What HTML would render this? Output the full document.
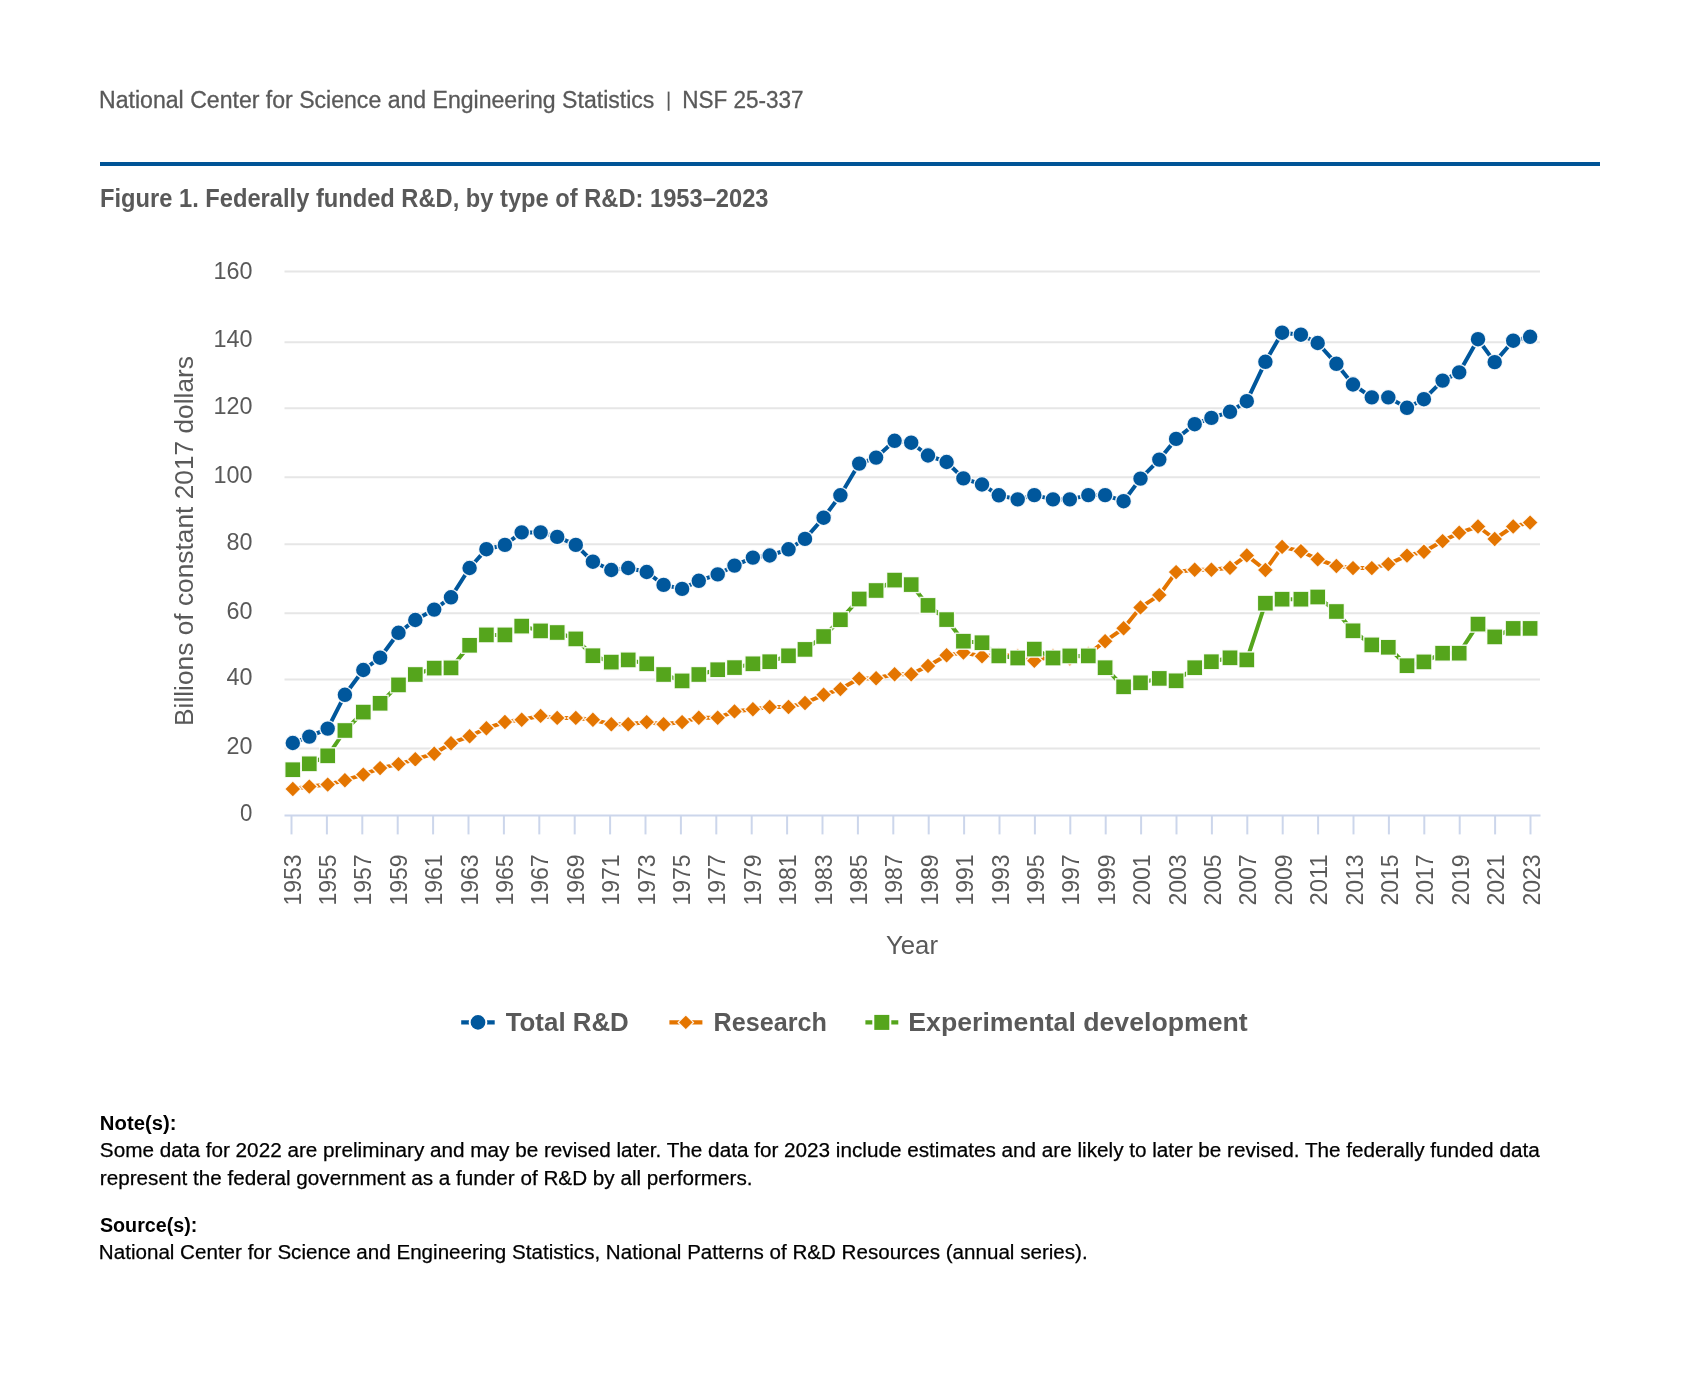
<!DOCTYPE html>
<html><head><meta charset="utf-8">
<style>
html,body{margin:0;padding:0;background:#fff;width:1699px;height:1374px;overflow:hidden;}
svg{position:absolute;left:0;top:0;font-family:"Liberation Sans",sans-serif;will-change:transform;}
</style></head><body>
<svg width="1699" height="1374" viewBox="0 0 1699 1374">
<rect x="100" y="162" width="1500" height="4" fill="#005496"/>
<rect x="667.7" y="91.6" width="1.8" height="19.2" fill="#595959"/>
<text id="hdr1" x="99.1" y="107.8" font-size="23" font-weight="normal" fill="#595959" textLength="555.31" lengthAdjust="spacingAndGlyphs" stroke="#595959" stroke-width="0.3">National Center for Science and Engineering Statistics</text>
<text id="hdr3" x="682.13" y="107.8" font-size="23" font-weight="normal" fill="#595959" textLength="121.45" lengthAdjust="spacingAndGlyphs" stroke="#595959" stroke-width="0.3">NSF 25-337</text>
<text id="title" x="100.08" y="207" font-size="25" font-weight="bold" fill="#595959" textLength="668.41" lengthAdjust="spacingAndGlyphs">Figure 1. Federally funded R&amp;D, by type of R&amp;D: 1953–2023</text>
<text id="year" x="885.98" y="954" font-size="25" font-weight="normal" fill="#595959" textLength="52.03" lengthAdjust="spacingAndGlyphs">Year</text>
<text id="lg1" x="505.7" y="1031" font-size="25" font-weight="bold" fill="#595959" textLength="123.13" lengthAdjust="spacingAndGlyphs">Total R&amp;D</text>
<text id="lg2" x="713.49" y="1031" font-size="25" font-weight="bold" fill="#595959" textLength="113.4" lengthAdjust="spacingAndGlyphs">Research</text>
<text id="lg3" x="908.3" y="1031" font-size="25" font-weight="bold" fill="#595959" textLength="339.41" lengthAdjust="spacingAndGlyphs">Experimental development</text>
<text id="note" x="99.87" y="1130.3" font-size="20" font-weight="bold" fill="#000" textLength="76.61" lengthAdjust="spacingAndGlyphs">Note(s):</text>
<text id="n2" x="99.85" y="1157" font-size="20" font-weight="normal" fill="#000" textLength="1439.83" lengthAdjust="spacingAndGlyphs" stroke="#000" stroke-width="0.25">Some data for 2022 are preliminary and may be revised later. The data for 2023 include estimates and are likely to later be revised. The federally funded data</text>
<text id="n3" x="99.85" y="1184.5" font-size="20" font-weight="normal" fill="#000" textLength="652.66" lengthAdjust="spacingAndGlyphs" stroke="#000" stroke-width="0.25">represent the federal government as a funder of R&amp;D by all performers.</text>
<text id="src" x="99.91" y="1232.4" font-size="20" font-weight="bold" fill="#000" textLength="97.47" lengthAdjust="spacingAndGlyphs">Source(s):</text>
<text id="s2" x="98.86" y="1259.4" font-size="20" font-weight="normal" fill="#000" textLength="988.79" lengthAdjust="spacingAndGlyphs" stroke="#000" stroke-width="0.25">National Center for Science and Engineering Statistics, National Patterns of R&amp;D Resources (annual series).</text>
<line x1="284.5" x2="1540" y1="271.4" y2="271.4" stroke="#e6e6e6" stroke-width="2"/>
<line x1="284.5" x2="1540" y1="342.3" y2="342.3" stroke="#e6e6e6" stroke-width="2"/>
<line x1="284.5" x2="1540" y1="408.3" y2="408.3" stroke="#e6e6e6" stroke-width="2"/>
<line x1="284.5" x2="1540" y1="477.3" y2="477.3" stroke="#e6e6e6" stroke-width="2"/>
<line x1="284.5" x2="1540" y1="544.3" y2="544.3" stroke="#e6e6e6" stroke-width="2"/>
<line x1="284.5" x2="1540" y1="613.3" y2="613.3" stroke="#e6e6e6" stroke-width="2"/>
<line x1="284.5" x2="1540" y1="679.4" y2="679.4" stroke="#e6e6e6" stroke-width="2"/>
<line x1="284.5" x2="1540" y1="748.4" y2="748.4" stroke="#e6e6e6" stroke-width="2"/>
<text x="252.5" y="278.6" text-anchor="end" font-size="23" fill="#595959" textLength="39.0" lengthAdjust="spacingAndGlyphs">160</text>
<text x="252.5" y="347.3" text-anchor="end" font-size="23" fill="#595959" textLength="39.0" lengthAdjust="spacingAndGlyphs">140</text>
<text x="252.5" y="414.1" text-anchor="end" font-size="23" fill="#595959" textLength="39.0" lengthAdjust="spacingAndGlyphs">120</text>
<text x="252.5" y="482.7" text-anchor="end" font-size="23" fill="#595959" textLength="39.0" lengthAdjust="spacingAndGlyphs">100</text>
<text x="252.5" y="549.6" text-anchor="end" font-size="23" fill="#595959" textLength="26.0" lengthAdjust="spacingAndGlyphs">80</text>
<text x="252.5" y="618.5" text-anchor="end" font-size="23" fill="#595959" textLength="26.0" lengthAdjust="spacingAndGlyphs">60</text>
<text x="252.5" y="685.0" text-anchor="end" font-size="23" fill="#595959" textLength="26.0" lengthAdjust="spacingAndGlyphs">40</text>
<text x="252.5" y="753.6" text-anchor="end" font-size="23" fill="#595959" textLength="26.0" lengthAdjust="spacingAndGlyphs">20</text>
<text x="252.5" y="820.5" text-anchor="end" font-size="23" fill="#595959" textLength="12.4" lengthAdjust="spacingAndGlyphs">0</text>
<line x1="284.5" x2="1540.5" y1="815.4" y2="815.4" stroke="#ccd6eb" stroke-width="2"/>
<line x1="291.5" x2="291.5" y1="815.4" y2="834.4" stroke="#ccd6eb" stroke-width="2"/>
<text transform="translate(300.5,854.3) rotate(-90)" text-anchor="end" font-size="23" fill="#595959" textLength="51.3" lengthAdjust="spacingAndGlyphs">1953</text>
<line x1="326.9" x2="326.9" y1="815.4" y2="834.4" stroke="#ccd6eb" stroke-width="2"/>
<text transform="translate(335.9,854.3) rotate(-90)" text-anchor="end" font-size="23" fill="#595959" textLength="51.3" lengthAdjust="spacingAndGlyphs">1955</text>
<line x1="362.3" x2="362.3" y1="815.4" y2="834.4" stroke="#ccd6eb" stroke-width="2"/>
<text transform="translate(371.3,854.3) rotate(-90)" text-anchor="end" font-size="23" fill="#595959" textLength="51.3" lengthAdjust="spacingAndGlyphs">1957</text>
<line x1="397.7" x2="397.7" y1="815.4" y2="834.4" stroke="#ccd6eb" stroke-width="2"/>
<text transform="translate(406.7,854.3) rotate(-90)" text-anchor="end" font-size="23" fill="#595959" textLength="51.3" lengthAdjust="spacingAndGlyphs">1959</text>
<line x1="433.1" x2="433.1" y1="815.4" y2="834.4" stroke="#ccd6eb" stroke-width="2"/>
<text transform="translate(442.1,854.3) rotate(-90)" text-anchor="end" font-size="23" fill="#595959" textLength="51.3" lengthAdjust="spacingAndGlyphs">1961</text>
<line x1="468.5" x2="468.5" y1="815.4" y2="834.4" stroke="#ccd6eb" stroke-width="2"/>
<text transform="translate(477.5,854.3) rotate(-90)" text-anchor="end" font-size="23" fill="#595959" textLength="51.3" lengthAdjust="spacingAndGlyphs">1963</text>
<line x1="503.9" x2="503.9" y1="815.4" y2="834.4" stroke="#ccd6eb" stroke-width="2"/>
<text transform="translate(512.9,854.3) rotate(-90)" text-anchor="end" font-size="23" fill="#595959" textLength="51.3" lengthAdjust="spacingAndGlyphs">1965</text>
<line x1="539.3" x2="539.3" y1="815.4" y2="834.4" stroke="#ccd6eb" stroke-width="2"/>
<text transform="translate(548.3,854.3) rotate(-90)" text-anchor="end" font-size="23" fill="#595959" textLength="51.3" lengthAdjust="spacingAndGlyphs">1967</text>
<line x1="574.7" x2="574.7" y1="815.4" y2="834.4" stroke="#ccd6eb" stroke-width="2"/>
<text transform="translate(583.7,854.3) rotate(-90)" text-anchor="end" font-size="23" fill="#595959" textLength="51.3" lengthAdjust="spacingAndGlyphs">1969</text>
<line x1="610.0999999999999" x2="610.0999999999999" y1="815.4" y2="834.4" stroke="#ccd6eb" stroke-width="2"/>
<text transform="translate(619.1,854.3) rotate(-90)" text-anchor="end" font-size="23" fill="#595959" textLength="51.3" lengthAdjust="spacingAndGlyphs">1971</text>
<line x1="645.5" x2="645.5" y1="815.4" y2="834.4" stroke="#ccd6eb" stroke-width="2"/>
<text transform="translate(654.5,854.3) rotate(-90)" text-anchor="end" font-size="23" fill="#595959" textLength="51.3" lengthAdjust="spacingAndGlyphs">1973</text>
<line x1="680.9" x2="680.9" y1="815.4" y2="834.4" stroke="#ccd6eb" stroke-width="2"/>
<text transform="translate(689.9,854.3) rotate(-90)" text-anchor="end" font-size="23" fill="#595959" textLength="51.3" lengthAdjust="spacingAndGlyphs">1975</text>
<line x1="716.3" x2="716.3" y1="815.4" y2="834.4" stroke="#ccd6eb" stroke-width="2"/>
<text transform="translate(725.3,854.3) rotate(-90)" text-anchor="end" font-size="23" fill="#595959" textLength="51.3" lengthAdjust="spacingAndGlyphs">1977</text>
<line x1="751.7" x2="751.7" y1="815.4" y2="834.4" stroke="#ccd6eb" stroke-width="2"/>
<text transform="translate(760.7,854.3) rotate(-90)" text-anchor="end" font-size="23" fill="#595959" textLength="51.3" lengthAdjust="spacingAndGlyphs">1979</text>
<line x1="787.0999999999999" x2="787.0999999999999" y1="815.4" y2="834.4" stroke="#ccd6eb" stroke-width="2"/>
<text transform="translate(796.1,854.3) rotate(-90)" text-anchor="end" font-size="23" fill="#595959" textLength="51.3" lengthAdjust="spacingAndGlyphs">1981</text>
<line x1="822.5" x2="822.5" y1="815.4" y2="834.4" stroke="#ccd6eb" stroke-width="2"/>
<text transform="translate(831.5,854.3) rotate(-90)" text-anchor="end" font-size="23" fill="#595959" textLength="51.3" lengthAdjust="spacingAndGlyphs">1983</text>
<line x1="857.9" x2="857.9" y1="815.4" y2="834.4" stroke="#ccd6eb" stroke-width="2"/>
<text transform="translate(866.9,854.3) rotate(-90)" text-anchor="end" font-size="23" fill="#595959" textLength="51.3" lengthAdjust="spacingAndGlyphs">1985</text>
<line x1="893.3" x2="893.3" y1="815.4" y2="834.4" stroke="#ccd6eb" stroke-width="2"/>
<text transform="translate(902.3,854.3) rotate(-90)" text-anchor="end" font-size="23" fill="#595959" textLength="51.3" lengthAdjust="spacingAndGlyphs">1987</text>
<line x1="928.6999999999999" x2="928.6999999999999" y1="815.4" y2="834.4" stroke="#ccd6eb" stroke-width="2"/>
<text transform="translate(937.7,854.3) rotate(-90)" text-anchor="end" font-size="23" fill="#595959" textLength="51.3" lengthAdjust="spacingAndGlyphs">1989</text>
<line x1="964.1" x2="964.1" y1="815.4" y2="834.4" stroke="#ccd6eb" stroke-width="2"/>
<text transform="translate(973.1,854.3) rotate(-90)" text-anchor="end" font-size="23" fill="#595959" textLength="51.3" lengthAdjust="spacingAndGlyphs">1991</text>
<line x1="999.5" x2="999.5" y1="815.4" y2="834.4" stroke="#ccd6eb" stroke-width="2"/>
<text transform="translate(1008.5,854.3) rotate(-90)" text-anchor="end" font-size="23" fill="#595959" textLength="51.3" lengthAdjust="spacingAndGlyphs">1993</text>
<line x1="1034.9" x2="1034.9" y1="815.4" y2="834.4" stroke="#ccd6eb" stroke-width="2"/>
<text transform="translate(1043.9,854.3) rotate(-90)" text-anchor="end" font-size="23" fill="#595959" textLength="51.3" lengthAdjust="spacingAndGlyphs">1995</text>
<line x1="1070.3" x2="1070.3" y1="815.4" y2="834.4" stroke="#ccd6eb" stroke-width="2"/>
<text transform="translate(1079.3,854.3) rotate(-90)" text-anchor="end" font-size="23" fill="#595959" textLength="51.3" lengthAdjust="spacingAndGlyphs">1997</text>
<line x1="1105.6999999999998" x2="1105.6999999999998" y1="815.4" y2="834.4" stroke="#ccd6eb" stroke-width="2"/>
<text transform="translate(1114.7,854.3) rotate(-90)" text-anchor="end" font-size="23" fill="#595959" textLength="51.3" lengthAdjust="spacingAndGlyphs">1999</text>
<line x1="1141.1" x2="1141.1" y1="815.4" y2="834.4" stroke="#ccd6eb" stroke-width="2"/>
<text transform="translate(1150.1,854.3) rotate(-90)" text-anchor="end" font-size="23" fill="#595959" textLength="51.3" lengthAdjust="spacingAndGlyphs">2001</text>
<line x1="1176.5" x2="1176.5" y1="815.4" y2="834.4" stroke="#ccd6eb" stroke-width="2"/>
<text transform="translate(1185.5,854.3) rotate(-90)" text-anchor="end" font-size="23" fill="#595959" textLength="51.3" lengthAdjust="spacingAndGlyphs">2003</text>
<line x1="1211.9" x2="1211.9" y1="815.4" y2="834.4" stroke="#ccd6eb" stroke-width="2"/>
<text transform="translate(1220.9,854.3) rotate(-90)" text-anchor="end" font-size="23" fill="#595959" textLength="51.3" lengthAdjust="spacingAndGlyphs">2005</text>
<line x1="1247.3" x2="1247.3" y1="815.4" y2="834.4" stroke="#ccd6eb" stroke-width="2"/>
<text transform="translate(1256.3,854.3) rotate(-90)" text-anchor="end" font-size="23" fill="#595959" textLength="51.3" lengthAdjust="spacingAndGlyphs">2007</text>
<line x1="1282.6999999999998" x2="1282.6999999999998" y1="815.4" y2="834.4" stroke="#ccd6eb" stroke-width="2"/>
<text transform="translate(1291.7,854.3) rotate(-90)" text-anchor="end" font-size="23" fill="#595959" textLength="51.3" lengthAdjust="spacingAndGlyphs">2009</text>
<line x1="1318.1" x2="1318.1" y1="815.4" y2="834.4" stroke="#ccd6eb" stroke-width="2"/>
<text transform="translate(1327.1,854.3) rotate(-90)" text-anchor="end" font-size="23" fill="#595959" textLength="51.3" lengthAdjust="spacingAndGlyphs">2011</text>
<line x1="1353.5" x2="1353.5" y1="815.4" y2="834.4" stroke="#ccd6eb" stroke-width="2"/>
<text transform="translate(1362.5,854.3) rotate(-90)" text-anchor="end" font-size="23" fill="#595959" textLength="51.3" lengthAdjust="spacingAndGlyphs">2013</text>
<line x1="1388.8999999999999" x2="1388.8999999999999" y1="815.4" y2="834.4" stroke="#ccd6eb" stroke-width="2"/>
<text transform="translate(1397.9,854.3) rotate(-90)" text-anchor="end" font-size="23" fill="#595959" textLength="51.3" lengthAdjust="spacingAndGlyphs">2015</text>
<line x1="1424.3" x2="1424.3" y1="815.4" y2="834.4" stroke="#ccd6eb" stroke-width="2"/>
<text transform="translate(1433.3,854.3) rotate(-90)" text-anchor="end" font-size="23" fill="#595959" textLength="51.3" lengthAdjust="spacingAndGlyphs">2017</text>
<line x1="1459.7" x2="1459.7" y1="815.4" y2="834.4" stroke="#ccd6eb" stroke-width="2"/>
<text transform="translate(1468.7,854.3) rotate(-90)" text-anchor="end" font-size="23" fill="#595959" textLength="51.3" lengthAdjust="spacingAndGlyphs">2019</text>
<line x1="1495.1" x2="1495.1" y1="815.4" y2="834.4" stroke="#ccd6eb" stroke-width="2"/>
<text transform="translate(1504.1,854.3) rotate(-90)" text-anchor="end" font-size="23" fill="#595959" textLength="51.3" lengthAdjust="spacingAndGlyphs">2021</text>
<line x1="1530.5" x2="1530.5" y1="815.4" y2="834.4" stroke="#ccd6eb" stroke-width="2"/>
<text transform="translate(1539.5,854.3) rotate(-90)" text-anchor="end" font-size="23" fill="#595959" textLength="51.3" lengthAdjust="spacingAndGlyphs">2023</text>
<path d="M292.8 789.0 L309.3 786.6 L327.7 784.6 L344.9 780.2 L363.3 774.6 L380.1 768.1 L398.5 764.1 L415.3 759.3 L434.2 753.7 L451.0 743.2 L469.6 736.3 L486.4 728.3 L504.9 722.0 L521.7 719.8 L540.6 715.9 L557.2 717.9 L575.8 717.9 L592.9 719.8 L611.3 724.2 L628.2 724.2 L646.7 722.1 L663.6 724.2 L682.1 722.1 L698.8 717.8 L717.7 717.8 L734.5 711.4 L752.9 709.3 L769.7 707.0 L788.5 707.0 L805.0 703.0 L823.6 694.8 L840.4 689.1 L859.2 678.6 L876.1 678.3 L894.6 674.2 L911.2 674.2 L928.0 665.9 L946.6 655.3 L963.4 652.6 L982.0 656.3 L998.8 654.9 L1017.7 656.0 L1034.3 660.8 L1053.0 656.0 L1069.8 658.5 L1088.3 654.0 L1105.1 641.2 L1123.6 628.3 L1140.5 607.4 L1159.3 595.1 L1176.1 572.1 L1194.7 569.8 L1211.4 569.8 L1230.0 567.8 L1246.8 555.4 L1265.4 570.0 L1282.1 546.9 L1300.9 551.2 L1317.7 559.3 L1336.4 566.0 L1353.0 568.1 L1371.8 568.1 L1388.3 564.1 L1407.0 555.6 L1423.9 551.7 L1442.6 541.1 L1459.2 532.8 L1478.0 526.5 L1494.7 539.0 L1513.2 526.5 L1530.1 522.6" fill="none" stroke="#e47500" stroke-width="4" stroke-linejoin="round"/>
<g fill="#e47500" stroke="rgba(255,255,255,0.9)" stroke-width="1.4"><path d="M292.8 780.8L301.0 789.0L292.8 797.2L284.6 789.0Z"/><path d="M309.3 778.4L317.5 786.6L309.3 794.8L301.1 786.6Z"/><path d="M327.7 776.4L335.9 784.6L327.7 792.8L319.5 784.6Z"/><path d="M344.9 772.0L353.1 780.2L344.9 788.4L336.7 780.2Z"/><path d="M363.3 766.4L371.5 774.6L363.3 782.8L355.1 774.6Z"/><path d="M380.1 759.9L388.3 768.1L380.1 776.3L371.9 768.1Z"/><path d="M398.5 755.9L406.7 764.1L398.5 772.3L390.3 764.1Z"/><path d="M415.3 751.1L423.5 759.3L415.3 767.5L407.1 759.3Z"/><path d="M434.2 745.5L442.4 753.7L434.2 761.9L426.0 753.7Z"/><path d="M451.0 735.0L459.2 743.2L451.0 751.4L442.8 743.2Z"/><path d="M469.6 728.1L477.8 736.3L469.6 744.5L461.4 736.3Z"/><path d="M486.4 720.1L494.6 728.3L486.4 736.5L478.2 728.3Z"/><path d="M504.9 713.8L513.1 722.0L504.9 730.2L496.7 722.0Z"/><path d="M521.7 711.6L529.9 719.8L521.7 728.0L513.5 719.8Z"/><path d="M540.6 707.7L548.8 715.9L540.6 724.1L532.4 715.9Z"/><path d="M557.2 709.7L565.4 717.9L557.2 726.1L549.0 717.9Z"/><path d="M575.8 709.7L584.0 717.9L575.8 726.1L567.6 717.9Z"/><path d="M592.9 711.6L601.1 719.8L592.9 728.0L584.7 719.8Z"/><path d="M611.3 716.0L619.5 724.2L611.3 732.4L603.1 724.2Z"/><path d="M628.2 716.0L636.4 724.2L628.2 732.4L620.0 724.2Z"/><path d="M646.7 713.9L654.9 722.1L646.7 730.3L638.5 722.1Z"/><path d="M663.6 716.0L671.8 724.2L663.6 732.4L655.4 724.2Z"/><path d="M682.1 713.9L690.3 722.1L682.1 730.3L673.9 722.1Z"/><path d="M698.8 709.6L707.0 717.8L698.8 726.0L690.6 717.8Z"/><path d="M717.7 709.6L725.9 717.8L717.7 726.0L709.5 717.8Z"/><path d="M734.5 703.2L742.7 711.4L734.5 719.6L726.3 711.4Z"/><path d="M752.9 701.1L761.1 709.3L752.9 717.5L744.7 709.3Z"/><path d="M769.7 698.8L777.9 707.0L769.7 715.2L761.5 707.0Z"/><path d="M788.5 698.8L796.7 707.0L788.5 715.2L780.3 707.0Z"/><path d="M805.0 694.8L813.2 703.0L805.0 711.2L796.8 703.0Z"/><path d="M823.6 686.6L831.8 694.8L823.6 703.0L815.4 694.8Z"/><path d="M840.4 680.9L848.6 689.1L840.4 697.3L832.2 689.1Z"/><path d="M859.2 670.4L867.4 678.6L859.2 686.8L851.0 678.6Z"/><path d="M876.1 670.1L884.3 678.3L876.1 686.5L867.9 678.3Z"/><path d="M894.6 666.0L902.8 674.2L894.6 682.4L886.4 674.2Z"/><path d="M911.2 666.0L919.4 674.2L911.2 682.4L903.0 674.2Z"/><path d="M928.0 657.7L936.2 665.9L928.0 674.1L919.8 665.9Z"/><path d="M946.6 647.1L954.8 655.3L946.6 663.5L938.4 655.3Z"/><path d="M963.4 644.4L971.6 652.6L963.4 660.8L955.2 652.6Z"/><path d="M982.0 648.1L990.2 656.3L982.0 664.5L973.8 656.3Z"/><path d="M998.8 646.7L1007.0 654.9L998.8 663.1L990.6 654.9Z"/><path d="M1017.7 647.8L1025.9 656.0L1017.7 664.2L1009.5 656.0Z"/><path d="M1034.3 652.6L1042.5 660.8L1034.3 669.0L1026.1 660.8Z"/><path d="M1053.0 647.8L1061.2 656.0L1053.0 664.2L1044.8 656.0Z"/><path d="M1069.8 650.3L1078.0 658.5L1069.8 666.7L1061.6 658.5Z"/><path d="M1088.3 645.8L1096.5 654.0L1088.3 662.2L1080.1 654.0Z"/><path d="M1105.1 633.0L1113.3 641.2L1105.1 649.4L1096.9 641.2Z"/><path d="M1123.6 620.1L1131.8 628.3L1123.6 636.5L1115.4 628.3Z"/><path d="M1140.5 599.2L1148.7 607.4L1140.5 615.6L1132.3 607.4Z"/><path d="M1159.3 586.9L1167.5 595.1L1159.3 603.3L1151.1 595.1Z"/><path d="M1176.1 563.9L1184.3 572.1L1176.1 580.3L1167.9 572.1Z"/><path d="M1194.7 561.6L1202.9 569.8L1194.7 578.0L1186.5 569.8Z"/><path d="M1211.4 561.6L1219.6 569.8L1211.4 578.0L1203.2 569.8Z"/><path d="M1230.0 559.6L1238.2 567.8L1230.0 576.0L1221.8 567.8Z"/><path d="M1246.8 547.2L1255.0 555.4L1246.8 563.6L1238.6 555.4Z"/><path d="M1265.4 561.8L1273.6 570.0L1265.4 578.2L1257.2 570.0Z"/><path d="M1282.1 538.7L1290.3 546.9L1282.1 555.1L1273.9 546.9Z"/><path d="M1300.9 543.0L1309.1 551.2L1300.9 559.4L1292.7 551.2Z"/><path d="M1317.7 551.1L1325.9 559.3L1317.7 567.5L1309.5 559.3Z"/><path d="M1336.4 557.8L1344.6 566.0L1336.4 574.2L1328.2 566.0Z"/><path d="M1353.0 559.9L1361.2 568.1L1353.0 576.3L1344.8 568.1Z"/><path d="M1371.8 559.9L1380.0 568.1L1371.8 576.3L1363.6 568.1Z"/><path d="M1388.3 555.9L1396.5 564.1L1388.3 572.3L1380.1 564.1Z"/><path d="M1407.0 547.4L1415.2 555.6L1407.0 563.8L1398.8 555.6Z"/><path d="M1423.9 543.5L1432.1 551.7L1423.9 559.9L1415.7 551.7Z"/><path d="M1442.6 532.9L1450.8 541.1L1442.6 549.3L1434.4 541.1Z"/><path d="M1459.2 524.6L1467.4 532.8L1459.2 541.0L1451.0 532.8Z"/><path d="M1478.0 518.3L1486.2 526.5L1478.0 534.7L1469.8 526.5Z"/><path d="M1494.7 530.8L1502.9 539.0L1494.7 547.2L1486.5 539.0Z"/><path d="M1513.2 518.3L1521.4 526.5L1513.2 534.7L1505.0 526.5Z"/><path d="M1530.1 514.4L1538.3 522.6L1530.1 530.8L1521.9 522.6Z"/></g>
<path d="M292.8 769.7 L309.3 763.8 L327.7 755.8 L344.9 730.5 L363.3 712.1 L380.1 703.3 L398.5 684.9 L415.3 674.5 L434.2 668.1 L451.0 667.9 L469.6 645.3 L486.4 634.9 L504.9 634.9 L521.7 626.1 L540.6 630.9 L557.2 632.5 L575.8 638.9 L592.9 655.7 L611.3 662.1 L628.2 659.9 L646.7 663.8 L663.6 674.5 L682.1 680.9 L698.8 674.5 L717.7 669.7 L734.5 667.6 L752.9 663.8 L769.7 661.7 L788.5 655.8 L805.0 649.4 L823.6 636.5 L840.4 619.7 L859.2 599.0 L876.1 590.5 L894.6 580.1 L911.2 584.6 L928.0 605.4 L946.6 619.6 L963.4 641.2 L982.0 642.7 L998.8 655.9 L1017.7 658.0 L1034.3 649.1 L1053.0 658.0 L1069.8 655.9 L1088.3 655.9 L1105.1 667.7 L1123.6 686.8 L1140.5 682.8 L1159.3 678.4 L1176.1 680.8 L1194.7 667.7 L1211.4 661.7 L1230.0 657.8 L1246.8 659.9 L1265.4 603.2 L1282.1 599.2 L1300.9 599.2 L1317.7 597.0 L1336.4 611.5 L1353.0 630.8 L1371.8 644.9 L1388.3 647.3 L1407.0 665.7 L1423.9 661.9 L1442.6 653.2 L1459.2 653.2 L1478.0 624.1 L1494.7 636.9 L1513.2 628.4 L1530.1 628.4" fill="none" stroke="#55a51c" stroke-width="4" stroke-linejoin="round"/>
<g fill="#55a51c" stroke="rgba(255,255,255,0.9)" stroke-width="1.4"><rect x="284.8" y="761.7" width="16.0" height="16.0"/><rect x="301.3" y="755.8" width="16.0" height="16.0"/><rect x="319.7" y="747.8" width="16.0" height="16.0"/><rect x="336.9" y="722.5" width="16.0" height="16.0"/><rect x="355.3" y="704.1" width="16.0" height="16.0"/><rect x="372.1" y="695.3" width="16.0" height="16.0"/><rect x="390.5" y="676.9" width="16.0" height="16.0"/><rect x="407.3" y="666.5" width="16.0" height="16.0"/><rect x="426.2" y="660.1" width="16.0" height="16.0"/><rect x="443.0" y="659.9" width="16.0" height="16.0"/><rect x="461.6" y="637.3" width="16.0" height="16.0"/><rect x="478.4" y="626.9" width="16.0" height="16.0"/><rect x="496.9" y="626.9" width="16.0" height="16.0"/><rect x="513.7" y="618.1" width="16.0" height="16.0"/><rect x="532.6" y="622.9" width="16.0" height="16.0"/><rect x="549.2" y="624.5" width="16.0" height="16.0"/><rect x="567.8" y="630.9" width="16.0" height="16.0"/><rect x="584.9" y="647.7" width="16.0" height="16.0"/><rect x="603.3" y="654.1" width="16.0" height="16.0"/><rect x="620.2" y="651.9" width="16.0" height="16.0"/><rect x="638.7" y="655.8" width="16.0" height="16.0"/><rect x="655.6" y="666.5" width="16.0" height="16.0"/><rect x="674.1" y="672.9" width="16.0" height="16.0"/><rect x="690.8" y="666.5" width="16.0" height="16.0"/><rect x="709.7" y="661.7" width="16.0" height="16.0"/><rect x="726.5" y="659.6" width="16.0" height="16.0"/><rect x="744.9" y="655.8" width="16.0" height="16.0"/><rect x="761.7" y="653.7" width="16.0" height="16.0"/><rect x="780.5" y="647.8" width="16.0" height="16.0"/><rect x="797.0" y="641.4" width="16.0" height="16.0"/><rect x="815.6" y="628.5" width="16.0" height="16.0"/><rect x="832.4" y="611.7" width="16.0" height="16.0"/><rect x="851.2" y="591.0" width="16.0" height="16.0"/><rect x="868.1" y="582.5" width="16.0" height="16.0"/><rect x="886.6" y="572.1" width="16.0" height="16.0"/><rect x="903.2" y="576.6" width="16.0" height="16.0"/><rect x="920.0" y="597.4" width="16.0" height="16.0"/><rect x="938.6" y="611.6" width="16.0" height="16.0"/><rect x="955.4" y="633.2" width="16.0" height="16.0"/><rect x="974.0" y="634.7" width="16.0" height="16.0"/><rect x="990.8" y="647.9" width="16.0" height="16.0"/><rect x="1009.7" y="650.0" width="16.0" height="16.0"/><rect x="1026.3" y="641.1" width="16.0" height="16.0"/><rect x="1045.0" y="650.0" width="16.0" height="16.0"/><rect x="1061.8" y="647.9" width="16.0" height="16.0"/><rect x="1080.3" y="647.9" width="16.0" height="16.0"/><rect x="1097.1" y="659.7" width="16.0" height="16.0"/><rect x="1115.6" y="678.8" width="16.0" height="16.0"/><rect x="1132.5" y="674.8" width="16.0" height="16.0"/><rect x="1151.3" y="670.4" width="16.0" height="16.0"/><rect x="1168.1" y="672.8" width="16.0" height="16.0"/><rect x="1186.7" y="659.7" width="16.0" height="16.0"/><rect x="1203.4" y="653.7" width="16.0" height="16.0"/><rect x="1222.0" y="649.8" width="16.0" height="16.0"/><rect x="1238.8" y="651.9" width="16.0" height="16.0"/><rect x="1257.4" y="595.2" width="16.0" height="16.0"/><rect x="1274.1" y="591.2" width="16.0" height="16.0"/><rect x="1292.9" y="591.2" width="16.0" height="16.0"/><rect x="1309.7" y="589.0" width="16.0" height="16.0"/><rect x="1328.4" y="603.5" width="16.0" height="16.0"/><rect x="1345.0" y="622.8" width="16.0" height="16.0"/><rect x="1363.8" y="636.9" width="16.0" height="16.0"/><rect x="1380.3" y="639.3" width="16.0" height="16.0"/><rect x="1399.0" y="657.7" width="16.0" height="16.0"/><rect x="1415.9" y="653.9" width="16.0" height="16.0"/><rect x="1434.6" y="645.2" width="16.0" height="16.0"/><rect x="1451.2" y="645.2" width="16.0" height="16.0"/><rect x="1470.0" y="616.1" width="16.0" height="16.0"/><rect x="1486.7" y="628.9" width="16.0" height="16.0"/><rect x="1505.2" y="620.4" width="16.0" height="16.0"/><rect x="1522.1" y="620.4" width="16.0" height="16.0"/></g>
<path d="M292.8 743.0 L309.3 736.6 L327.7 728.6 L344.9 694.8 L363.3 670.0 L380.1 657.7 L398.5 632.8 L415.3 620.0 L434.2 609.6 L451.0 597.3 L469.6 568.0 L486.4 549.2 L504.9 544.9 L521.7 532.4 L540.6 532.4 L557.2 536.9 L575.8 544.9 L592.9 561.7 L611.3 570.0 L628.2 568.0 L646.7 572.0 L663.6 584.9 L682.1 588.9 L698.8 580.8 L717.7 574.4 L734.5 565.6 L752.9 557.6 L769.7 555.5 L788.5 549.3 L805.0 538.9 L823.6 517.7 L840.4 495.3 L859.2 463.6 L876.1 457.6 L894.6 440.8 L911.2 442.7 L928.0 455.5 L946.6 462.0 L963.4 478.4 L982.0 484.5 L998.8 495.3 L1017.7 499.4 L1034.3 495.1 L1053.0 499.4 L1069.8 499.4 L1088.3 495.1 L1105.1 495.1 L1123.6 501.2 L1140.5 478.6 L1159.3 459.6 L1176.1 438.9 L1194.7 424.2 L1211.4 417.9 L1230.0 411.8 L1246.8 401.2 L1265.4 361.8 L1282.1 332.7 L1300.9 334.7 L1317.7 343.0 L1336.4 363.8 L1353.0 384.5 L1371.8 397.4 L1388.3 397.4 L1407.0 407.8 L1423.9 399.2 L1442.6 380.6 L1459.2 372.4 L1478.0 339.2 L1494.7 362.1 L1513.2 340.7 L1530.1 336.8" fill="none" stroke="#00579c" stroke-width="4" stroke-linejoin="round"/>
<g fill="#00579c" stroke="rgba(255,255,255,0.9)" stroke-width="1.4"><circle cx="292.8" cy="743.0" r="7.9"/><circle cx="309.3" cy="736.6" r="7.9"/><circle cx="327.7" cy="728.6" r="7.9"/><circle cx="344.9" cy="694.8" r="7.9"/><circle cx="363.3" cy="670.0" r="7.9"/><circle cx="380.1" cy="657.7" r="7.9"/><circle cx="398.5" cy="632.8" r="7.9"/><circle cx="415.3" cy="620.0" r="7.9"/><circle cx="434.2" cy="609.6" r="7.9"/><circle cx="451.0" cy="597.3" r="7.9"/><circle cx="469.6" cy="568.0" r="7.9"/><circle cx="486.4" cy="549.2" r="7.9"/><circle cx="504.9" cy="544.9" r="7.9"/><circle cx="521.7" cy="532.4" r="7.9"/><circle cx="540.6" cy="532.4" r="7.9"/><circle cx="557.2" cy="536.9" r="7.9"/><circle cx="575.8" cy="544.9" r="7.9"/><circle cx="592.9" cy="561.7" r="7.9"/><circle cx="611.3" cy="570.0" r="7.9"/><circle cx="628.2" cy="568.0" r="7.9"/><circle cx="646.7" cy="572.0" r="7.9"/><circle cx="663.6" cy="584.9" r="7.9"/><circle cx="682.1" cy="588.9" r="7.9"/><circle cx="698.8" cy="580.8" r="7.9"/><circle cx="717.7" cy="574.4" r="7.9"/><circle cx="734.5" cy="565.6" r="7.9"/><circle cx="752.9" cy="557.6" r="7.9"/><circle cx="769.7" cy="555.5" r="7.9"/><circle cx="788.5" cy="549.3" r="7.9"/><circle cx="805.0" cy="538.9" r="7.9"/><circle cx="823.6" cy="517.7" r="7.9"/><circle cx="840.4" cy="495.3" r="7.9"/><circle cx="859.2" cy="463.6" r="7.9"/><circle cx="876.1" cy="457.6" r="7.9"/><circle cx="894.6" cy="440.8" r="7.9"/><circle cx="911.2" cy="442.7" r="7.9"/><circle cx="928.0" cy="455.5" r="7.9"/><circle cx="946.6" cy="462.0" r="7.9"/><circle cx="963.4" cy="478.4" r="7.9"/><circle cx="982.0" cy="484.5" r="7.9"/><circle cx="998.8" cy="495.3" r="7.9"/><circle cx="1017.7" cy="499.4" r="7.9"/><circle cx="1034.3" cy="495.1" r="7.9"/><circle cx="1053.0" cy="499.4" r="7.9"/><circle cx="1069.8" cy="499.4" r="7.9"/><circle cx="1088.3" cy="495.1" r="7.9"/><circle cx="1105.1" cy="495.1" r="7.9"/><circle cx="1123.6" cy="501.2" r="7.9"/><circle cx="1140.5" cy="478.6" r="7.9"/><circle cx="1159.3" cy="459.6" r="7.9"/><circle cx="1176.1" cy="438.9" r="7.9"/><circle cx="1194.7" cy="424.2" r="7.9"/><circle cx="1211.4" cy="417.9" r="7.9"/><circle cx="1230.0" cy="411.8" r="7.9"/><circle cx="1246.8" cy="401.2" r="7.9"/><circle cx="1265.4" cy="361.8" r="7.9"/><circle cx="1282.1" cy="332.7" r="7.9"/><circle cx="1300.9" cy="334.7" r="7.9"/><circle cx="1317.7" cy="343.0" r="7.9"/><circle cx="1336.4" cy="363.8" r="7.9"/><circle cx="1353.0" cy="384.5" r="7.9"/><circle cx="1371.8" cy="397.4" r="7.9"/><circle cx="1388.3" cy="397.4" r="7.9"/><circle cx="1407.0" cy="407.8" r="7.9"/><circle cx="1423.9" cy="399.2" r="7.9"/><circle cx="1442.6" cy="380.6" r="7.9"/><circle cx="1459.2" cy="372.4" r="7.9"/><circle cx="1478.0" cy="339.2" r="7.9"/><circle cx="1494.7" cy="362.1" r="7.9"/><circle cx="1513.2" cy="340.7" r="7.9"/><circle cx="1530.1" cy="336.8" r="7.9"/></g>
<text transform="translate(193,541) rotate(-90)" text-anchor="middle" font-size="25" fill="#595959" textLength="370" lengthAdjust="spacingAndGlyphs">Billions of constant 2017 dollars</text>
<line x1="461.2" x2="494.7" y1="1022.4" y2="1022.4" stroke="#00579c" stroke-width="4.2"/>
<circle cx="478" cy="1022.4" r="8.35" fill="#00579c" stroke="#fff" stroke-width="2"/>
<line x1="669.4" x2="702.4" y1="1022.4" y2="1022.4" stroke="#e47500" stroke-width="4.2"/>
<path d="M685.8 1014.8L693.4 1022.4L685.8 1030.0L678.2 1022.4Z" fill="#e47500" stroke="rgba(255,255,255,0.9)" stroke-width="1.3"/>
<line x1="865.4" x2="898.3" y1="1022.4" y2="1022.4" stroke="#55a51c" stroke-width="4.2"/>
<rect x="873.3" y="1013.9" width="17" height="17" fill="#55a51c" stroke="#fff" stroke-width="2"/>
</svg>
</body></html>
